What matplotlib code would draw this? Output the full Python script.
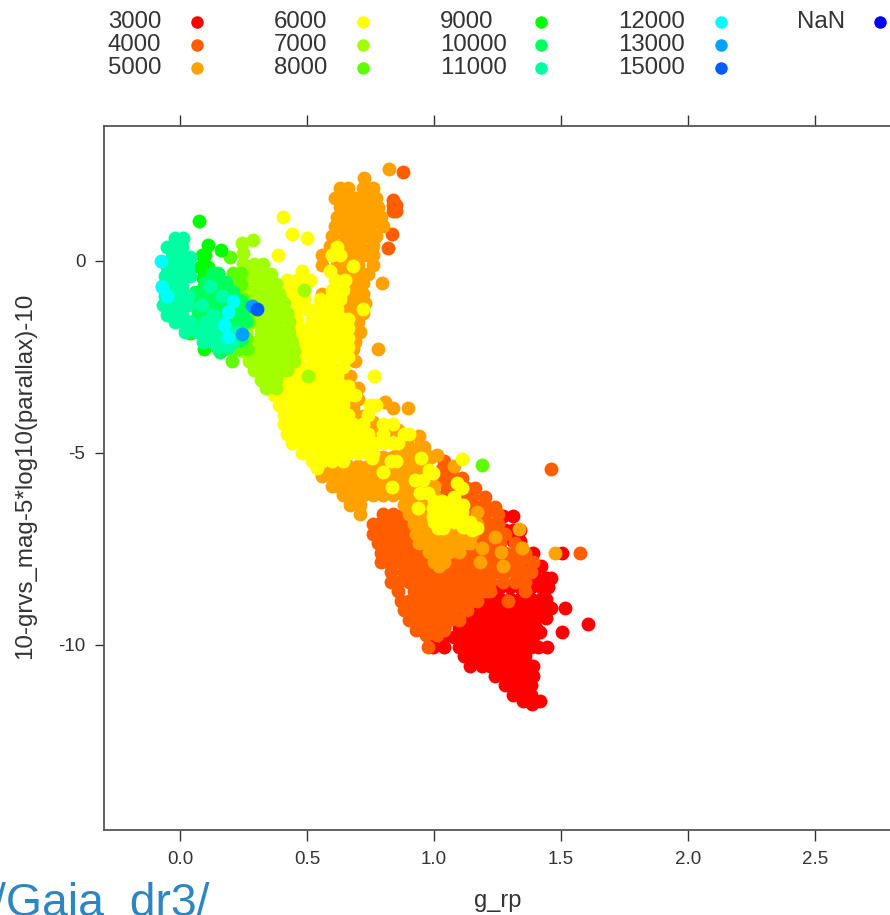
import matplotlib
matplotlib.use("Agg")
import matplotlib.pyplot as plt
from matplotlib.lines import Line2D

plt.rcParams['font.family'] = ['Liberation Sans', 'DejaVu Sans']
plt.rcParams['text.kerning_factor'] = 8

W, H = 890, 915

# values, (mag, [g_rp, ...]) row by row
rows_3000 = [
    (-6.65, [1.27, 1.31]),
    (-7.0, [1.28, 1.31, 1.34]),
    (-7.3, [1.31, 1.34]),
    (-7.6, [1.35, 1.39, 1.505]),
    (-7.95, [1.38, 1.42]),
    (-8.26, [1.36, 1.40, 1.44, 1.46]),
    (-8.5, [1.26, 1.30, 1.34, 1.38, 1.42, 1.45]),
    (-8.8, [1.18, 1.22, 1.26, 1.30, 1.34, 1.38, 1.42, 1.44]),
    (-9.05, [1.14, 1.18, 1.22, 1.26, 1.30, 1.34, 1.38, 1.42, 1.46, 1.515]),
    (-9.3, [1.08, 1.12, 1.16, 1.20, 1.24, 1.28, 1.32, 1.36, 1.40, 1.44]),
    (-9.45, [1.606]),
    (-9.55, [1.04, 1.10, 1.14, 1.18, 1.22, 1.26, 1.30, 1.34, 1.38, 1.40]),
    (-9.66, [1.417, 1.504]),
    (-9.8, [1.00, 1.04, 1.08, 1.12, 1.16, 1.20, 1.24, 1.28, 1.32, 1.36, 1.39]),
    (-10.05, [0.996, 1.04, 1.10, 1.14, 1.18, 1.22, 1.26, 1.30, 1.34, 1.38, 1.41, 1.444]),
    (-10.3, [1.12, 1.16, 1.20, 1.24, 1.28, 1.32, 1.36]),
    (-10.55, [1.14, 1.19, 1.22, 1.26, 1.30, 1.34, 1.38, 1.39]),
    (-10.8, [1.24, 1.28, 1.32, 1.36, 1.39]),
    (-11.05, [1.28, 1.30, 1.34, 1.38]),
    (-11.3, [1.31, 1.35, 1.38]),
    (-11.45, [1.35, 1.417]),
    (-11.55, [1.385]),
]
rows_4000 = [
    (2.32, [0.878]),
    (1.6, [0.84]),
    (1.46, [0.84, 0.85]),
    (1.3, [0.84, 0.85]),
    (0.7, [0.834]),
    (0.34, [0.82]),
    (-5.2, [1.04]),
    (-5.42, [1.03, 1.07, 1.46]),
    (-5.65, [1.03, 1.07, 1.11]),
    (-5.9, [1.05, 1.09, 1.13, 1.16]),
    (-6.15, [1.03, 1.07, 1.11, 1.15, 1.20]),
    (-6.4, [1.05, 1.09, 1.13, 1.17, 1.21, 1.24]),
    (-6.6, [0.80, 0.84, 0.88, 0.92, 0.96, 1.00, 1.04, 1.08, 1.12, 1.16, 1.20, 1.25]),
    (-6.85, [0.76, 0.78, 0.82, 0.86, 0.90, 0.94, 0.98, 1.02, 1.06, 1.10, 1.14, 1.18, 1.22, 1.25]),
    (-7.1, [0.76, 0.80, 0.84, 0.88, 0.92, 0.96, 1.00, 1.04, 1.08, 1.12, 1.16, 1.20, 1.24, 1.28]),
    (-7.35, [0.78, 0.82, 0.86, 0.90, 0.94, 0.98, 1.02, 1.06, 1.10, 1.14, 1.18, 1.22, 1.26, 1.32]),
    (-7.6, [0.79, 0.84, 0.88, 0.92, 0.96, 1.00, 1.04, 1.08, 1.12, 1.16, 1.20, 1.24, 1.28, 1.32, 1.36, 1.575]),
    (-7.85, [0.79, 0.82, 0.86, 0.90, 0.94, 0.98, 1.02, 1.06, 1.10, 1.14, 1.18, 1.22, 1.26, 1.30, 1.34, 1.39]),
    (-8.1, [0.83, 0.88, 0.92, 0.96, 1.00, 1.04, 1.08, 1.12, 1.16, 1.20, 1.24, 1.28, 1.32, 1.36, 1.38]),
    (-8.35, [0.83, 0.86, 0.90, 0.94, 0.98, 1.02, 1.06, 1.10, 1.14, 1.18, 1.22, 1.27, 1.32, 1.36]),
    (-8.6, [0.86, 0.92, 0.96, 1.00, 1.04, 1.08, 1.12, 1.16, 1.20, 1.22, 1.36]),
    (-8.85, [0.87, 0.90, 0.94, 0.98, 1.02, 1.06, 1.10, 1.14, 1.17, 1.29]),
    (-9.1, [0.88, 0.92, 0.96, 1.00, 1.04, 1.08, 1.13]),
    (-9.35, [0.90, 0.94, 0.98, 1.02, 1.06, 1.10]),
    (-9.6, [0.93, 0.97, 1.00, 1.01, 1.04]),
    (-9.75, [0.97, 1.01]),
    (-10.05, [0.976]),
]
rows_5000 = [
    (2.4, [0.823]),
    (2.16, [0.725]),
    (1.9, [0.63, 0.66, 0.72, 0.76]),
    (1.65, [0.61, 0.65, 0.69, 0.73, 0.77]),
    (1.4, [0.63, 0.67, 0.71, 0.75, 0.78]),
    (1.15, [0.62, 0.66, 0.70, 0.74, 0.78, 0.79]),
    (0.9, [0.61, 0.63, 0.67, 0.71, 0.75, 0.80]),
    (0.65, [0.60, 0.65, 0.69, 0.73, 0.77]),
    (0.4, [0.59, 0.63, 0.67, 0.71, 0.76]),
    (0.15, [0.56, 0.60, 0.65, 0.69, 0.73, 0.76]),
    (-0.1, [0.56, 0.62, 0.66, 0.70, 0.76]),
    (-0.35, [0.64, 0.68, 0.72, 0.74]),
    (-0.57, [0.62, 0.66, 0.70, 0.72, 0.795]),
    (-0.85, [0.56, 0.64, 0.68, 0.72]),
    (-1.1, [0.62, 0.66, 0.70, 0.73]),
    (-1.35, [0.64, 0.68, 0.72]),
    (-1.6, [0.66, 0.70]),
    (-1.85, [0.68, 0.71]),
    (-2.1, [0.69]),
    (-2.29, [0.68, 0.78]),
    (-2.6, [0.69]),
    (-3.0, [0.67]),
    (-3.3, [0.67, 0.70]),
    (-3.6, [0.67, 0.70]),
    (-3.67, [0.807]),
    (-3.83, [0.68, 0.84, 0.898]),
    (-4.05, [0.68, 0.72]),
    (-4.2, [0.72, 0.76]),
    (-4.4, [0.78, 0.82, 0.86]),
    (-4.55, [0.90, 0.94]),
    (-4.85, [0.86, 0.90, 0.94, 0.96]),
    (-5.05, [1.01]),
    (-5.1, [0.76, 0.80, 0.84, 0.88, 0.92, 0.96, 0.99]),
    (-5.35, [0.58, 0.62, 0.66, 0.70, 0.74, 0.78, 0.82, 0.86, 0.90, 0.94, 0.97, 1.08]),
    (-5.6, [0.56, 0.60, 0.64, 0.68, 0.72, 0.76, 0.80, 0.84, 0.88, 0.92, 0.96, 0.99]),
    (-5.85, [0.60, 0.62, 0.66, 0.70, 0.74, 0.78, 0.82, 0.86, 0.90, 0.94, 0.98, 1.00]),
    (-6.1, [0.64, 0.68, 0.72, 0.76, 0.80, 0.84, 0.88, 0.92, 0.96, 1.00]),
    (-6.35, [0.67, 0.71, 0.88, 0.90, 0.94, 0.98, 1.02]),
    (-6.53, [1.17]),
    (-6.6, [0.71, 0.90, 0.94, 0.98, 1.02]),
    (-6.85, [0.92, 0.96, 1.00, 1.04, 1.08, 1.12, 1.14, 1.17]),
    (-6.98, [1.335]),
    (-7.1, [0.93, 0.98, 1.02, 1.06, 1.10, 1.13, 1.15]),
    (-7.2, [1.24]),
    (-7.35, [0.94, 0.96, 1.00, 1.04, 1.08, 1.12, 1.14]),
    (-7.47, [1.19, 1.347]),
    (-7.58, [0.98, 1.02, 1.06, 1.10, 1.264]),
    (-7.6, [1.476]),
    (-7.84, [1.00, 1.04, 1.18]),
    (-7.95, [1.02, 1.27]),
]
rows_6000 = [
    (1.15, [0.405]),
    (0.7, [0.44]),
    (0.6, [0.50]),
    (0.36, [0.62]),
    (0.16, [0.386, 0.60, 0.63]),
    (-0.13, [0.68]),
    (-0.26, [0.48, 0.59]),
    (-0.5, [0.42, 0.46, 0.51, 0.61, 0.65]),
    (-0.75, [0.43, 0.47, 0.60, 0.64]),
    (-1.0, [0.45, 0.49, 0.55, 0.59, 0.63]),
    (-1.25, [0.46, 0.50, 0.54, 0.58, 0.62, 0.72]),
    (-1.5, [0.46, 0.52, 0.56, 0.60, 0.64, 0.66]),
    (-1.75, [0.47, 0.50, 0.54, 0.58, 0.62, 0.66]),
    (-2.0, [0.47, 0.52, 0.56, 0.60, 0.64, 0.66]),
    (-2.25, [0.48, 0.50, 0.54, 0.58, 0.62, 0.66]),
    (-2.5, [0.47, 0.52, 0.56, 0.60, 0.64, 0.66]),
    (-2.75, [0.44, 0.48, 0.52, 0.56, 0.60, 0.64]),
    (-3.0, [0.42, 0.46, 0.50, 0.54, 0.58, 0.62, 0.765]),
    (-3.25, [0.40, 0.44, 0.48, 0.52, 0.56, 0.60, 0.64, 0.66]),
    (-3.5, [0.37, 0.42, 0.46, 0.50, 0.54, 0.58, 0.62, 0.66, 0.69]),
    (-3.75, [0.39, 0.44, 0.48, 0.52, 0.56, 0.60, 0.64, 0.75, 0.77]),
    (-4.0, [0.41, 0.46, 0.50, 0.54, 0.58, 0.62, 0.66, 0.74]),
    (-4.25, [0.41, 0.44, 0.48, 0.52, 0.56, 0.60, 0.64, 0.68, 0.72, 0.80, 0.84]),
    (-4.5, [0.42, 0.46, 0.50, 0.54, 0.58, 0.62, 0.66, 0.70, 0.74, 0.80, 0.88, 0.90]),
    (-4.75, [0.44, 0.48, 0.52, 0.56, 0.60, 0.64, 0.68, 0.72, 0.76, 0.80, 0.84, 0.86]),
    (-5.0, [0.48, 0.50, 0.54, 0.58, 0.62, 0.66, 0.70, 0.74, 0.76]),
    (-5.13, [0.755, 0.95]),
    (-5.16, [1.11]),
    (-5.2, [0.52, 0.56, 0.60, 0.64, 0.83, 0.85]),
    (-5.4, [0.54]),
    (-5.44, [0.98]),
    (-5.5, [0.80]),
    (-5.52, [0.997]),
    (-5.7, [0.925, 0.957]),
    (-5.78, [1.09]),
    (-5.88, [0.834]),
    (-5.91, [1.11]),
    (-6.04, [0.945, 0.977]),
    (-6.15, [1.08]),
    (-6.25, [1.00, 1.03]),
    (-6.3, [1.05]),
    (-6.35, [1.115]),
    (-6.43, [0.937, 0.997, 1.075]),
    (-6.48, [1.02]),
    (-6.55, [1.00, 1.04, 1.08, 1.11]),
    (-6.67, [0.997, 1.02, 1.05]),
    (-6.75, [1.075]),
    (-6.8, [1.00, 1.04, 1.08, 1.12, 1.14]),
    (-6.93, [1.115]),
    (-6.95, [1.016, 1.035, 1.17]),
    (-7.0, [1.15]),
]
rows_7000 = [
    (0.55, [0.287]),
    (0.47, [0.244]),
    (0.2, [0.25]),
    (-0.08, [0.25, 0.29, 0.327]),
    (-0.35, [0.24, 0.28, 0.32, 0.36]),
    (-0.6, [0.25, 0.30, 0.34, 0.38]),
    (-0.76, [0.488]),
    (-0.85, [0.25, 0.28, 0.32, 0.36, 0.39]),
    (-1.1, [0.25, 0.30, 0.34, 0.38, 0.41]),
    (-1.35, [0.26, 0.28, 0.32, 0.36, 0.40, 0.42]),
    (-1.6, [0.28, 0.30, 0.34, 0.38, 0.43]),
    (-1.85, [0.26, 0.32, 0.36, 0.40, 0.43]),
    (-2.1, [0.26, 0.30, 0.34, 0.38, 0.42, 0.44]),
    (-2.35, [0.25, 0.28, 0.32, 0.36, 0.40, 0.45]),
    (-2.6, [0.27, 0.30, 0.34, 0.38, 0.42, 0.45]),
    (-2.85, [0.29, 0.32, 0.36, 0.40, 0.42]),
    (-3.0, [0.504]),
    (-3.1, [0.32, 0.36, 0.38]),
    (-3.3, [0.34, 0.38]),
]
rows_8000 = [
    (0.1, [0.197]),
    (-0.3, [0.21, 0.24]),
    (-0.6, [0.22, 0.24]),
    (-1.0, [0.22, 0.25]),
    (-1.3, [0.25, 0.27]),
    (-1.6, [0.24, 0.268]),
    (-2.0, [0.20, 0.23, 0.26]),
    (-2.3, [0.15, 0.19, 0.23, 0.265]),
    (-2.6, [0.205]),
    (-5.31, [1.19]),
]
rows_9000 = [
    (1.04, [0.075]),
    (0.42, [0.11]),
    (0.29, [0.16]),
    (0.15, [0.085, 0.10]),
    (-0.15, [0.08, 0.11]),
    (-0.45, [0.09, 0.12]),
    (-0.7, [0.09, 0.12]),
    (-0.95, [0.08, 0.11]),
    (-1.88, [0.04]),
    (-2.3, [0.094]),
]
rows_10000 = [
    (-0.3, [0.13, 0.15]),
    (-0.55, [0.10, 0.14, 0.18]),
    (-0.8, [0.06, 0.10, 0.14, 0.18, 0.21]),
    (-1.05, [0.05, 0.09, 0.13, 0.17, 0.21, 0.24]),
    (-1.3, [0.07, 0.11, 0.15, 0.19, 0.23, 0.25]),
    (-1.55, [0.05, 0.08, 0.12, 0.16, 0.20, 0.24, 0.26]),
    (-1.8, [0.05, 0.08, 0.12, 0.16]),
    (-2.05, [0.20, 0.24]),
    (-2.36, [0.157]),
]
rows_11000 = [
    (0.6, [-0.02, 0.012]),
    (0.36, [-0.05, -0.02, 0.01]),
    (0.1, [-0.03, 0.01, 0.04]),
    (-0.15, [-0.05, -0.01, 0.03]),
    (-0.4, [-0.06, -0.02, 0.01, 0.04]),
    (-0.65, [-0.07, -0.03, 0.01, 0.118]),
    (-0.9, [-0.06, -0.02, 0.01, 0.03, 0.165]),
    (-1.15, [-0.065, -0.03, 0.00, 0.03, 0.087]),
    (-1.4, [-0.05, -0.02, 0.01, 0.13]),
    (-1.6, [-0.02, 0.01, 0.04, 0.10, 0.13, 0.17]),
    (-1.85, [0.02, 0.07, 0.11, 0.15, 0.19, 0.22]),
    (-2.1, [0.09, 0.13, 0.17, 0.21]),
    (-2.25, [0.15, 0.19]),
]
rows_12000 = [
    (0.0, [-0.075]),
    (-0.67, [-0.07]),
    (-0.91, [-0.05]),
    (-1.05, [0.208]),
    (-1.33, [0.19]),
    (-1.67, [0.174]),
    (-1.97, [0.19]),
]
rows_13000 = [(-1.17, [0.283]), (-1.9, [0.245])]
rows_15000 = [(-1.25, [0.304])]
rows_nan = []

teff_labels = ['3000', '4000', '5000', '6000', '7000', '8000', '9000', '10000',
               '11000', '12000', '13000', '15000', 'NaN']
colors = ['#FF0000', '#FF5D00', '#FFA200', '#FFFF00', '#A2FF00', '#5DFF00', '#00FF00',
          '#00FF5D', '#00FFA2', '#00FFFF', '#00A2FF', '#005DFF', '#0000FF']
all_rows = [rows_3000, rows_4000, rows_5000, rows_6000, rows_7000, rows_8000, rows_9000,
            rows_10000, rows_11000, rows_12000, rows_13000, rows_15000, rows_nan]
xticks = [0.0, 0.5, 1.0, 1.5, 2.0, 2.5]
yticks = [0, -5, -10]


def fx(px):
    return px / W


def fy(py):
    return 1 - py / H


fig = plt.figure(figsize=(W / 100, H / 100), dpi=100)
# right edge of the box falls outside the picture
ax = fig.add_axes([fx(104), fy(830), (906 - 104) / W, (830 - 126) / H])

for rows, color in zip(all_rows, colors):
    xs = [x for y, row in rows for x in row]
    ys = [y for y, row in rows for x in row]
    ax.scatter(xs, ys, s=100, color=color, linewidths=0, clip_on=True)

ax.set_xlim(-0.299, 2.858)
ax.set_ylim(-14.82, 3.516)
ax.set_xticks(xticks)
ax.set_xticklabels(['%.1f' % t for t in xticks], fontsize=13.5, color='#333333')
ax.set_yticks(yticks)
ax.set_yticklabels([str(t) for t in yticks], fontsize=13.5, color='#333333')
ax.tick_params(axis='x', which='both', top=True, direction='out', length=8, width=1,
               color='#333333', pad=7)
ax.tick_params(axis='y', direction='out', length=6.5, width=1, color='#333333', pad=7)
for spine in ax.spines.values():
    spine.set_color('#555555')
    spine.set_linewidth(1.3)

fig.text(fx(498), fy(901), 'g_rp', fontsize=17, color='#333333', ha='center', va='center')
fig.text(fx(25), fy(476), '10-grvs_mag-5*log10(parallax)-10', fontsize=17.4, color='#333333',
         rotation=90, ha='center', va='center')

# legend written by hand, lattice key in five columns
text_x = [108, 274, 440, 618, 797]
dot_x = [197, 363, 541, 721, 880]
row_y = [22, 45, 68]
for i, (label, color) in enumerate(zip(teff_labels, colors)):
    col, row = i // 3, i % 3
    fig.text(fx(text_x[col]), fy(row_y[row]), label, fontsize=17.3, color='#333333',
             ha='left', va='center')
    fig.add_artist(Line2D([fx(dot_x[col])], [fy(row_y[row])], marker='o', markersize=9,
                          color=color, markeredgewidth=0, transform=fig.transFigure))

# piece of the page behind the screenshot, cut by the bottom edge
fig.text(fx(-7), fy(916), '/Gaia_dr3/', fontsize=33.3, color='#2E86C1', ha='left', va='baseline')

fig.savefig('out.png', dpi=100)
